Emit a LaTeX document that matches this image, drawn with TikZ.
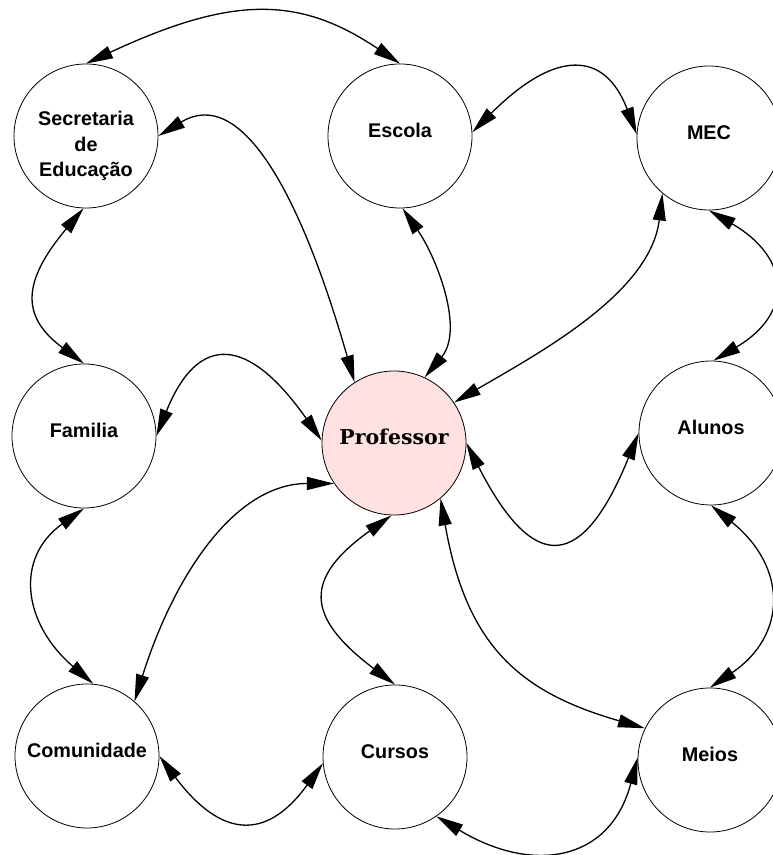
\documentclass[tikz,border=0pt]{standalone}
\usepackage{fontspec}
\setmainfont{Liberation Sans}
\newfontfamily\proffont{DejaVu Serif}
\usepackage{tikz}
\usetikzlibrary{arrows.meta}
\definecolor{profpink}{RGB}{255,225,225}

\begin{document}
\begin{tikzpicture}[x=1pt, y=1pt, >={Triangle[length=27pt, width=13pt]}, every node/.style={font=\fontsize{19.8}{25.5}\selectfont\bfseries}]
    \tikzset{ent/.style={circle, draw, line width=0.8pt, minimum size=144pt, inner sep=0pt},
             one/.style={ent, text height=14pt, text depth=10pt},
             link/.style={<->, line width=1.3pt}}
    \useasboundingbox (0,0) rectangle (772,855);
    % nodes
    \node[ent, align=center] (sec) at (86,719) {\rule{0pt}{35pt}Secretaria\\de\\Educação};
    \node[one] (esc) at (400,719) {Escola};
    \node[one] (mec) at (709,717) {MEC};
    \node[one] (fam) at (84,419) {Familia};
    \node[one, fill=profpink, font=\proffont\fontsize{20.5}{24}\selectfont\bfseries] (prof) at (394,412) {Professor};
    \node[one] (alu) at (711,422) {Alunos};
    \node[one] (com) at (87,99) {Comunidade};
    \node[one] (cur) at (395,98) {Cursos};
    \node[one] (mei) at (710,95) {Meios};
    % top row
    \draw[link] (sec.north) .. controls +(146,68) and +(-101,68) .. (esc.north);
    \draw[link] (esc.3) .. controls +(83,83) and +(-32,84) .. (mec.177);
    % from the top row down to the professor
    \draw[link] (sec.east) .. controls +(82,50) and +(-55,192) .. (prof.123);
    \draw[link] (esc.272) .. controls +(34,-49) and +(40,48) .. (prof.65);
    \draw[link] (mec.230) .. controls +(-12,-99) and +(88,51) .. (prof.34);
    % outer columns
    \draw[link] (sec.268) .. controls +(-63,-75) and +(-62,46) .. (fam.north);
    \draw[link] (fam.south) .. controls +(-70,-50) and +(-70,60) .. (com.85);
    \draw[link] (mec.south) .. controls +(81,-47) and +(81,48) .. (alu.88);
    \draw[link] (alu.south) .. controls +(77,-62) and +(77,52) .. (mei.north);
    % middle row
    \draw[link] (fam.east) .. controls +(42,104) and +(-73,104) .. (prof.178);
    \draw[link] (prof.east) .. controls +(69,-135) and +(-55,-135) .. (alu.west);
    % from the professor down to the bottom row
    \draw[link] (prof.214) .. controls +(-100,0) and +(39,124) .. (com.49);
    \draw[link] (prof.268) .. controls +(-88,-63) and +(-90,68) .. (cur.north);
    \draw[link] (prof.310) .. controls +(26,-148) and +(-125,36) .. (mei.154);
    % bottom row
    \draw[link] (com.east) .. controls +(60,-80) and +(-58,-80) .. (cur.185);
    \draw[link] (cur.305) .. controls +(94,-57) and +(-28,-106) .. (mei.178);
\end{tikzpicture}
\end{document}
